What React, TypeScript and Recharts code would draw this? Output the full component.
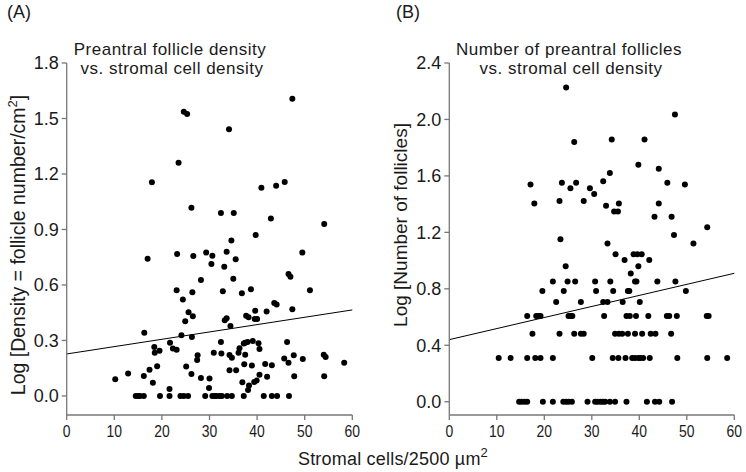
import React from 'react';
import { ScatterChart, Scatter, XAxis, YAxis, ReferenceLine } from 'recharts';

// stromal cells / 2500 µm² vs log density (panel A)
const densityPoints: [number, number][] = [
  [47.4, 1.607], [24.6, 1.537], [25.3, 1.524], [34.1, 1.442], [23.5, 1.261], [17.9, 1.155],
  [40.9, 1.126], [44.0, 1.137], [45.8, 1.157], [26.2, 1.018], [32.4, 0.989], [35.1, 0.989],
  [42.9, 0.96], [54.1, 0.93], [39.7, 0.87], [34.6, 0.84],
  [17.0, 0.742], [23.2, 0.768], [26.6, 0.757], [29.3, 0.775], [30.6, 0.758], [30.4, 0.714],
  [33.6, 0.78], [35.5, 0.739], [33.1, 0.699], [49.5, 0.775], [28.2, 0.627], [35.0, 0.634],
  [46.6, 0.659], [47.0, 0.645], [23.1, 0.571], [26.4, 0.56], [32.8, 0.566], [36.8, 0.555],
  [38.7, 0.577], [51.1, 0.571], [24.4, 0.521], [43.6, 0.503], [44.1, 0.494], [25.6, 0.452],
  [26.5, 0.431], [24.9, 0.404], [39.6, 0.461], [37.7, 0.434], [38.2, 0.425], [39.5, 0.416],
  [40.0, 0.416], [42.0, 0.456], [47.4, 0.469], [33.2, 0.409], [33.6, 0.42], [34.4, 0.378],
  [16.3, 0.342], [24.1, 0.328], [26.3, 0.319], [21.7, 0.288], [32.4, 0.292], [18.4, 0.265],
  [22.3, 0.256], [23.1, 0.25], [18.5, 0.234], [19.5, 0.245], [30.9, 0.234], [32.5, 0.229],
  [34.2, 0.222], [34.7, 0.207], [36.1, 0.234], [36.3, 0.258], [37.2, 0.283], [37.5, 0.288],
  [38.0, 0.292], [39.1, 0.297], [40.3, 0.285], [40.5, 0.254], [46.3, 0.292], [37.5, 0.223],
  [27.5, 0.22], [27.4, 0.195], [45.7, 0.202], [46.6, 0.18], [47.7, 0.22], [49.6, 0.2],
  [54.0, 0.223], [54.4, 0.211], [58.3, 0.18], [10.2, 0.09], [12.9, 0.121], [17.4, 0.141],
  [16.2, 0.108], [19.0, 0.16], [18.1, 0.072], [25.1, 0.159], [26.2, 0.119], [28.2, 0.097],
  [30.0, 0.094], [29.9, 0.043], [21.6, 0.038], [34.2, 0.139], [35.6, 0.139], [37.3, 0.171],
  [38.9, 0.164], [36.9, 0.074], [38.3, 0.056], [38.1, 0.032], [39.4, 0.076], [39.9, 0.083],
  [40.5, 0.114], [41.7, 0.173], [42.1, 0.104], [43.1, 0.166], [47.8, 0.106], [54.1, 0.106],
  [14.5, 0], [15.0, 0], [15.4, 0], [16.2, 0], [19.6, 0], [21.6, 0], [23.9, 0], [24.6, 0],
  [25.5, 0], [29.1, 0], [30.6, 0], [31.1, 0], [31.5, 0], [32.1, 0], [32.6, 0], [33.7, 0],
  [34.7, 0], [37.2, 0], [41.4, 0], [43.1, 0], [44.2, 0], [46.7, 0],
];

// stromal cells vs log number of follicles (panel B)
const countPoints: [number, number][] = [
  [24.6, 2.227], [47.5, 2.035], [26.3, 1.84], [34.2, 1.858], [41.1, 1.858], [39.8, 1.679],
  [44.1, 1.65], [33.8, 1.62], [17.1, 1.539], [23.7, 1.551], [26.7, 1.551], [32.4, 1.563],
  [45.9, 1.551], [49.6, 1.539], [25.5, 1.513], [29.6, 1.513], [30.5, 1.471], [17.9, 1.404],
  [23.2, 1.423], [28.3, 1.423], [33.0, 1.388], [35.7, 1.404], [44.1, 1.404], [34.7, 1.348],
  [35.5, 1.348], [43.2, 1.31], [46.8, 1.31], [54.3, 1.237], [47.3, 1.182], [23.4, 1.152],
  [33.3, 1.121], [51.4, 1.121],
  [35.0, 1.045], [38.8, 1.045], [39.6, 1.045], [40.5, 1.045], [36.9, 1.005], [42.1, 1.005],
  [39.8, 0.96], [24.5, 0.96], [38.2, 0.908],
  [21.8, 0.851], [24.9, 0.851], [26.5, 0.851], [30.7, 0.851], [33.9, 0.851], [39.1, 0.851],
  [39.4, 0.851], [43.8, 0.851], [47.6, 0.851],
  [19.6, 0.785], [24.1, 0.785], [30.9, 0.785], [34.5, 0.785], [37.6, 0.785], [37.9, 0.785],
  [49.8, 0.785],
  [22.5, 0.707], [27.7, 0.707], [32.4, 0.707], [33.3, 0.707], [36.5, 0.707], [40.1, 0.707],
  [16.4, 0.608], [18.3, 0.608], [18.8, 0.608], [19.2, 0.608], [25.1, 0.608], [25.6, 0.608],
  [25.9, 0.608], [32.6, 0.608], [37.3, 0.608], [38.0, 0.608], [39.3, 0.608], [41.9, 0.608],
  [45.8, 0.608], [46.3, 0.608], [47.9, 0.608], [54.2, 0.608], [54.6, 0.608],
  [17.5, 0.482], [23.2, 0.482], [26.3, 0.482], [27.7, 0.482], [28.3, 0.482], [34.9, 0.482],
  [35.7, 0.482], [36.4, 0.482], [37.6, 0.482], [39.1, 0.482], [40.6, 0.482], [42.4, 0.482],
  [43.4, 0.482], [46.7, 0.482],
  [10.4, 0.31], [12.9, 0.31], [16.4, 0.31], [18.1, 0.31], [19.2, 0.31], [21.8, 0.31],
  [30.1, 0.31], [34.4, 0.31], [35.6, 0.31], [37.1, 0.31], [38.5, 0.31], [39.1, 0.31],
  [39.8, 0.31], [40.2, 0.31], [40.8, 0.31], [42.2, 0.31], [48.0, 0.31], [54.3, 0.31],
  [58.5, 0.31],
  [14.7, 0], [15.2, 0], [15.8, 0], [16.4, 0], [19.7, 0], [21.8, 0], [24.0, 0], [24.6, 0],
  [25.1, 0], [25.8, 0], [29.1, 0], [30.7, 0], [31.2, 0], [31.8, 0], [32.3, 0], [32.8, 0],
  [33.8, 0], [34.9, 0], [37.3, 0], [41.6, 0], [43.3, 0], [44.2, 0], [46.9, 0],
];

// regression line end points (x = 0 and x = 60)
const fitA: [number, number][] = [[0, 0.227], [60, 0.465]];
const fitB: [number, number][] = [[0, 0.44], [60, 0.91]];

const xTicks = [0, 10, 20, 30, 40, 50, 60];
const densityTicks = [0, 0.3, 0.6, 0.9, 1.2, 1.5, 1.8];
const countTicks = [0, 0.4, 0.8, 1.2, 1.6, 2.0, 2.4];

const FONT = '"Liberation Sans", Arial, Helvetica, sans-serif';
const INK = '#1a1a1a';
const AXIS = '#777';
const axisStyle = { stroke: AXIS, strokeWidth: 1.3 };

const dot = (p: any) => <circle cx={p.cx} cy={p.cy} r={3} fill="#000" />;

// x tick numbers are set in a narrow face in the original
const XTick = (p: any) => (
  <text
    transform={`translate(${p.x},${p.y}) scale(0.82,1)`}
    textAnchor="middle"
    dy="0.71em"
    fontSize={17}
    fontFamily={FONT}
    fill={INK}
  >
    {p.payload.value}
  </text>
);

interface PanelProps {
  points: [number, number][];
  fit: [number, number][];
  yTicks: number[];
  yMin: number;
  left: number;
  yAxisWidth: number;
  rightMargin: number;
}

function Panel({ points, fit, yTicks, yMin, left, yAxisWidth, rightMargin }: PanelProps) {
  const data = points.map(([x, y]) => ({ x, y }));
  return (
    <div style={{ position: 'absolute', left, top: 0 }}>
      <ScatterChart width={373} height={472} margin={{ top: 63, right: rightMargin, bottom: 0, left: 0 }}>
        <XAxis
          type="number"
          dataKey="x"
          domain={[0, 60]}
          ticks={xTicks}
          height={57}
          tickSize={5}
          tickMargin={5}
          tick={XTick}
          axisLine={axisStyle}
          tickLine={axisStyle}
          allowDataOverflow
        />
        <YAxis
          type="number"
          dataKey="y"
          domain={[yMin, yTicks[yTicks.length - 1]]}
          ticks={yTicks}
          width={yAxisWidth}
          tickSize={5}
          tickMargin={3}
          tick={{ fontSize: 18, fill: INK, fontFamily: FONT }}
          tickFormatter={(v: number) => v.toFixed(1)}
          axisLine={axisStyle}
          tickLine={axisStyle}
          allowDataOverflow
        />
        <ReferenceLine
          segment={[{ x: fit[0][0], y: fit[0][1] }, { x: fit[1][0], y: fit[1][1] }]}
          stroke="#000"
          strokeWidth={1}
        />
        <Scatter data={data} shape={dot} isAnimationActive={false} />
      </ScatterChart>
    </div>
  );
}

export default function App() {
  return (
    <div style={{ position: 'absolute', left: 0, top: 0, width: 746, height: 472, background: '#fff', fontFamily: FONT }}>
      <Panel points={densityPoints} fit={fitA} yTicks={densityTicks} yMin={-0.103} left={0} yAxisWidth={66.7} rightMargin={20.7} />
      <Panel points={countPoints} fit={fitB} yTicks={countTicks} yMin={-0.094} left={373} yAxisWidth={76.3} rightMargin={11.7} />
      <svg width={746} height={472} style={{ position: 'absolute', left: 0, top: 0, pointerEvents: 'none' }} fontFamily={FONT} fill={INK}>
        <text x={7} y={18} fontSize={18}>(A)</text>
        <text x={396} y={18} fontSize={18}>(B)</text>
        <g fontSize={17} letterSpacing={0.5} textAnchor="middle">
          <text x={170} y={55}>Preantral follicle density</text>
          <text x={172} y={74}>vs. stromal cell density</text>
          <text x={569} y={55}>Number of preantral follicles</text>
          <text x={571} y={74}>vs. stromal cell density</text>
        </g>
        <text transform="translate(25,245) rotate(-90)" fontSize={19.5} textAnchor="middle">
          Log [Density = follicle number/cm<tspan dy={-8} fontSize={13}>2</tspan><tspan dy={8}>]</tspan>
        </text>
        <text transform="translate(407,225) rotate(-90)" fontSize={19} textAnchor="middle">
          Log [Number of follicles]
        </text>
        <text x={393} y={465} fontSize={18} letterSpacing={0.2} textAnchor="middle">
          Stromal cells/2500 µm<tspan dy={-8} fontSize={13}>2</tspan>
        </text>
      </svg>
    </div>
  );
}
